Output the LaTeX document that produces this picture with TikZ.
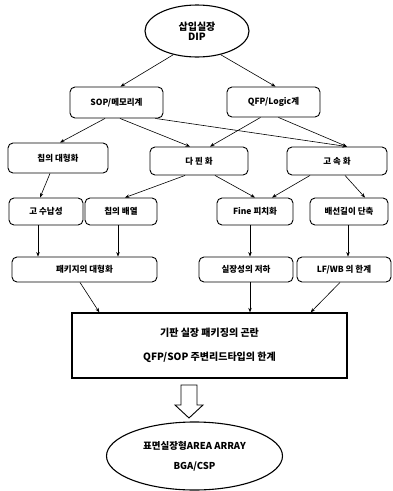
\documentclass[tikz,border=0pt]{standalone}
\usepackage{fontspec}
\setmainfont{Noto Sans CJK KR}[BoldFont={Noto Sans CJK KR Black}]
\usetikzlibrary{shapes.geometric,arrows.meta}
\tikzset{
  bx/.style={draw, rounded corners=5pt, line width=0.9pt, inner sep=0pt, align=center, font=\bfseries\fontsize{8.5}{10}\selectfont},
  arr/.style={line width=0.6pt, -{Stealth[length=4.5pt,width=3.5pt]}},
  ell/.style={draw, ellipse, line width=1.1pt, inner sep=0pt, align=center, font=\bfseries\fontsize{10}{12}\selectfont}
}
\begin{document}
\begin{tikzpicture}[x=1pt,y=-1pt]
\useasboundingbox (0,0) rectangle (393,491);
\node[ell, minimum width=104pt, minimum height=52pt] (dip) at (197,31) {삽입실장\\[-2pt]DIP};
\node[bx, minimum width=93pt, minimum height=31pt] (sop) at (116.5,102.5) {SOP/메모리계};
\node[bx, minimum width=93pt, minimum height=30pt] (qfp) at (273.5,102) {QFP/Logic계};
\node[bx, minimum width=100pt, minimum height=30pt] (chip) at (58,158) {칩의 대형화};
\node[bx, minimum width=98pt, minimum height=28pt] (dapin) at (199,161) {다 핀 화};
\node[bx, minimum width=100pt, minimum height=28pt] (gosok) at (337,161) {고 속 화};
\node[bx, minimum width=74pt, minimum height=27pt] (gosu) at (46,211.5) {고 수납성};
\node[bx, minimum width=72pt, minimum height=27pt] (bae) at (121,211.5) {칩의 배열};
\node[bx, minimum width=76pt, minimum height=27pt] (fine) at (255,211.5) {Fine 피치화};
\node[bx, minimum width=78pt, minimum height=27pt] (wire) at (349,211.5) {배선길이 단축};
\node[bx, minimum width=145pt, minimum height=25pt] (pkg) at (84.5,269.5) {패키지의 대형화};
\node[bx, minimum width=94pt, minimum height=25pt] (silj) at (246,269.5) {실장성의 저하};
\node[bx, minimum width=94pt, minimum height=25pt] (lfwb) at (344,269.5) {LF/WB 의 한계};
\node[draw, line width=1.3pt, minimum width=275pt, minimum height=65pt, inner sep=0pt, align=center, font=\bfseries\fontsize{10}{24}\selectfont] (big) at (209.5,345.5) {기판 실장 패키징의 곤란\\QFP/SOP 주변리드타입의 한계};
\node[ell, minimum width=176pt, minimum height=68pt, font=\bfseries\fontsize{9.5}{20}\selectfont] (bot) at (194.5,456) {표면실장형AREA ARRAY\\BGA/CSP};

\draw[arr] (dip.225) -- ([xshift=4pt]sop.north);
\draw[arr] (dip.-45) -- ([xshift=2pt]qfp.north);
\draw[arr] ([xshift=-11.5pt]sop.south) -- ([xshift=2pt]chip.north);
\draw[arr] ([xshift=3.5pt]sop.south) -- ([xshift=-9pt]dapin.north);
\draw[arr] ([xshift=-8pt]sop.south east) -- ([xshift=10pt]gosok.north);
\draw[arr] ([xshift=-13pt]qfp.south) -- ([xshift=11pt]dapin.north);
\draw[arr] ([xshift=5pt]qfp.south) -- ([xshift=10pt]gosok.north);
\draw[arr] ([xshift=-8pt]chip.south) -- ([xshift=-6pt]gosu.north);
\draw[arr] ([xshift=-14pt]dapin.south) -- ([xshift=4pt]bae.north);
\draw[arr] ([xshift=16pt]dapin.south) -- (fine.north);
\draw[arr] ([xshift=-27pt]gosok.south) -- ([xshift=17pt]fine.north);
\draw[arr] ([xshift=8pt]gosok.south) -- ([xshift=16pt]wire.north);
\draw[arr] ([xshift=-8pt]gosu.south) -- ([xshift=-8pt]gosu.south |- pkg.north);
\draw[arr] ([xshift=-3pt]bae.south) -- ([xshift=-3pt]bae.south |- pkg.north);
\draw[arr] ([xshift=-5pt]fine.south) -- ([xshift=-5pt]fine.south |- silj.north);
\draw[arr] ([xshift=-1pt]wire.south) -- ([xshift=-1pt]wire.south |- lfwb.north);
\draw[arr] ([xshift=-4.5pt]pkg.south) -- ([xshift=28pt]big.north west);
\draw[arr] ([xshift=4pt]silj.south) -- ([xshift=4pt]silj.south |- big.north);
\draw[arr] ([xshift=-4pt]lfwb.south) -- ([xshift=-37pt]big.north east);
\draw[line width=0.9pt, line join=miter] (181,385) -- (197,385) -- (197,405) -- (203,405) -- (189,418) -- (175,405) -- (181,405) -- cycle;
\end{tikzpicture}
\end{document}
